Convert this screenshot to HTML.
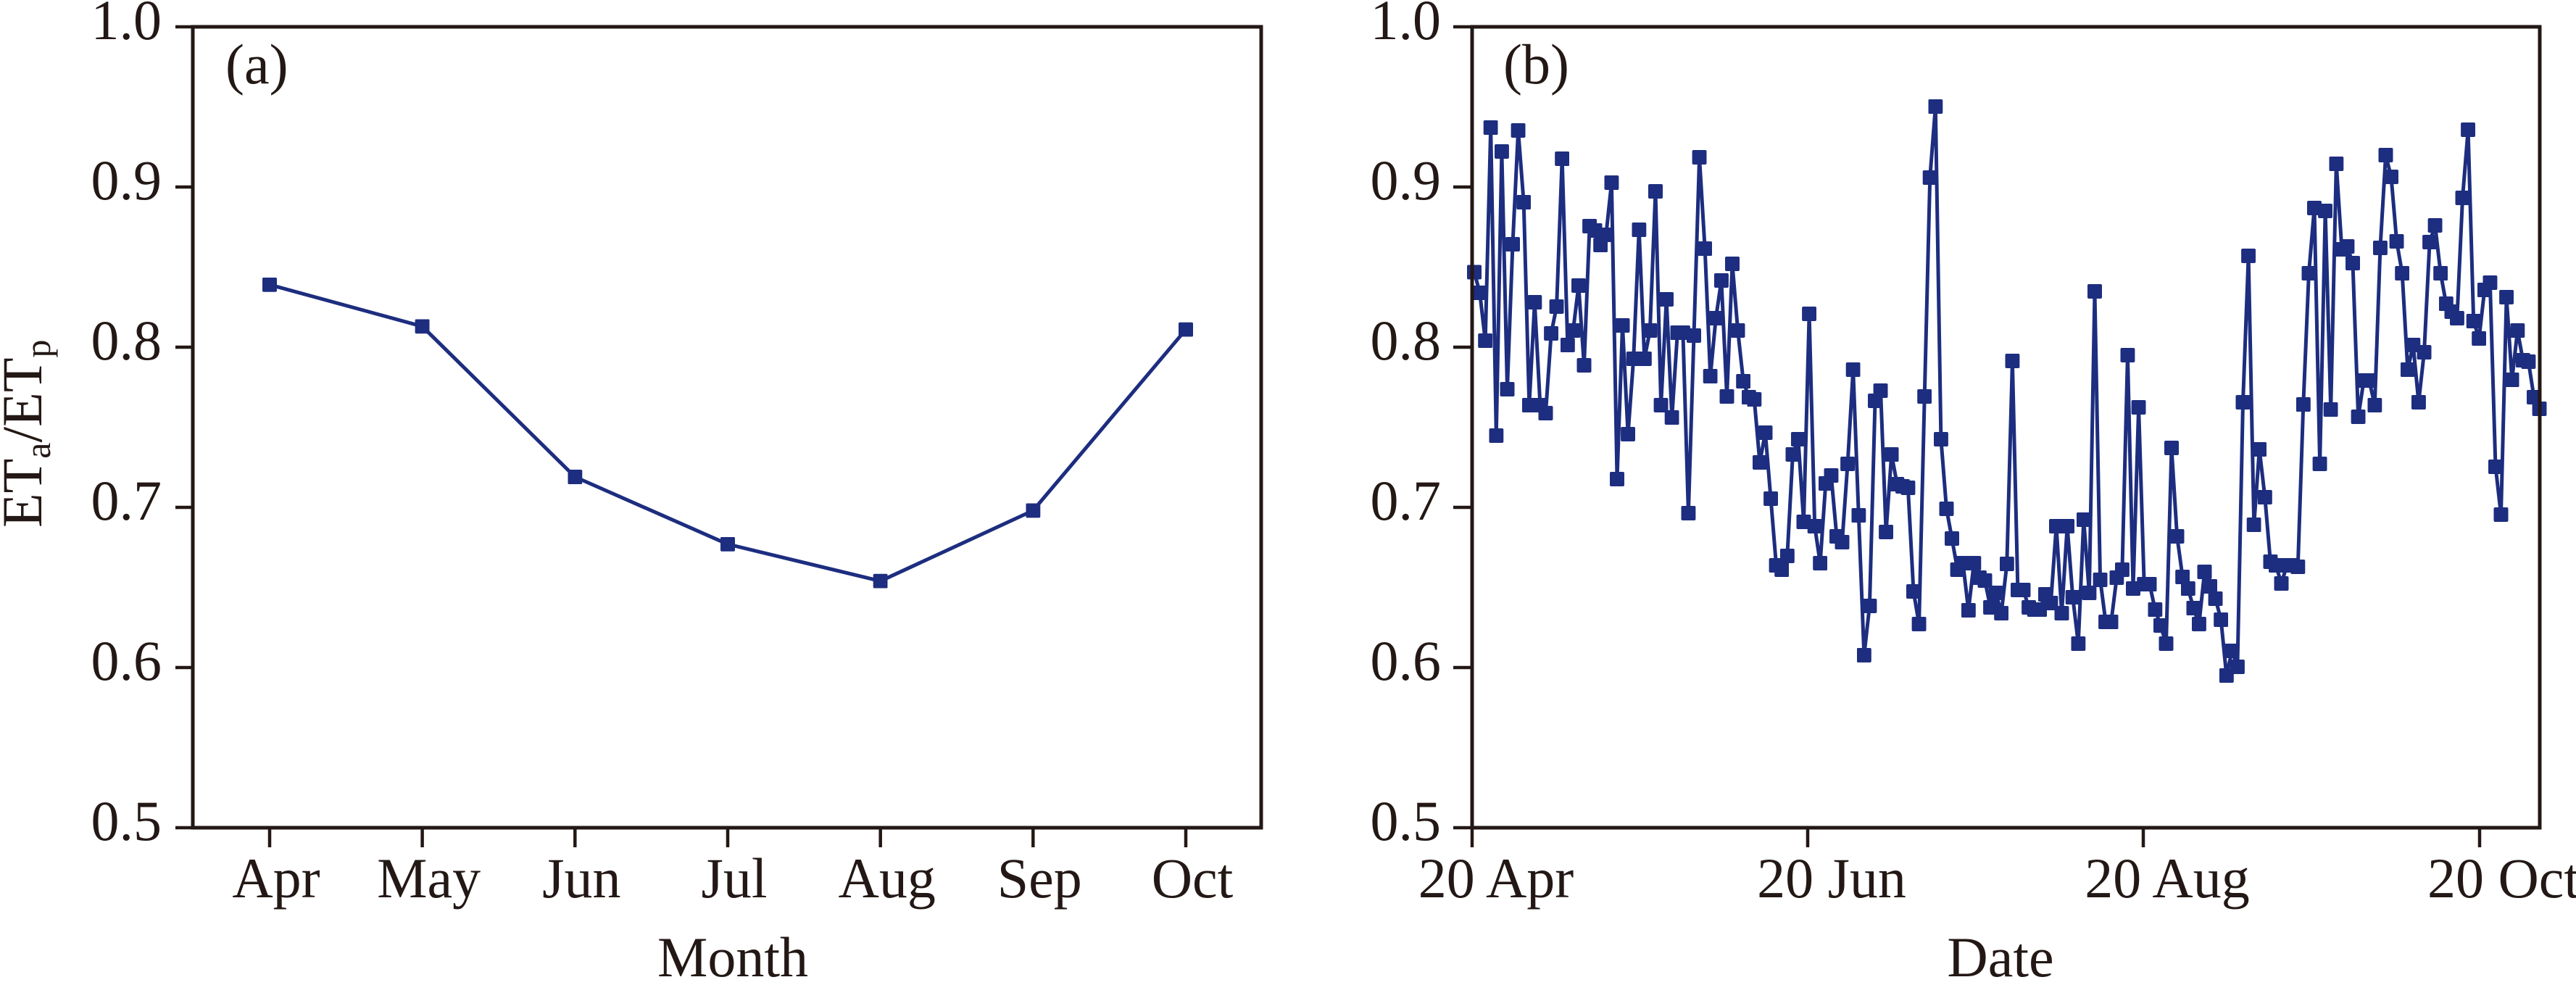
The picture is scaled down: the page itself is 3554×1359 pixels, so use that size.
<!DOCTYPE html>
<html>
<head>
<meta charset="utf-8">
<style>
  html, body { margin: 0; padding: 0; background: #ffffff; }
  svg { display: block; }
  text { font-family: "Liberation Serif", "Times New Roman", serif; fill: #231815; }
</style>
</head>
<body>
<svg xmlns="http://www.w3.org/2000/svg" width="3554" height="1359" viewBox="0 0 3554 1359">
  <defs>
    <marker id="sq" markerUnits="userSpaceOnUse" markerWidth="20" markerHeight="20" refX="10" refY="10" viewBox="0 0 20 20">
      <rect x="0" y="0" width="20" height="20" rx="2" fill="#1d2d7f"/>
    </marker>
  </defs>
  <rect x="0" y="0" width="3554" height="1359" fill="#ffffff"/>

  <!-- ===== Panel (a) data ===== -->
  <polyline fill="none" stroke="#1d2d7f" stroke-width="5" stroke-linejoin="round"
    marker-start="url(#sq)" marker-mid="url(#sq)" marker-end="url(#sq)"
    points="372,392.8 582.6,450.3 793.3,658 1004,750.8 1214.7,801.7 1425.3,704.4 1636,454.7"/>

  <!-- ===== Panel (b) data ===== -->
  <polyline fill="none" stroke="#1d2d7f" stroke-width="5" stroke-linejoin="round"
    marker-start="url(#sq)" marker-mid="url(#sq)" marker-end="url(#sq)"
    points="2034.0,375.5 2041.6,404 2049.2,470 2056.7,176 2064.3,601 2071.9,209 2079.5,537 2087.0,337 2094.6,180 2102.2,279 2109.8,559 2117.3,417 2124.9,559 2132.5,570 2140.1,460 2147.6,423 2155.2,219 2162.8,476 2170.4,456 2177.9,394 2185.5,504 2193.1,312 2200.7,318 2208.2,338 2215.8,324 2223.4,252 2231.0,661 2238.5,449 2246.1,599 2253.7,495 2261.3,317 2268.8,495 2276.4,456 2284.0,264 2291.6,559 2299.1,413 2306.7,576 2314.3,459 2321.9,459 2329.4,708 2337.0,463 2344.6,217 2352.2,343 2359.7,519 2367.3,439 2374.9,387 2382.5,547 2390.0,364 2397.6,456 2405.2,526
    2412.8,548 2420.3,551 2427.9,638 2435.5,597 2443.1,688 2450.6,780 2458.2,786 2465.8,767 2473.4,627 2480.9,606 2488.5,720 2496.1,433 2503.7,726 2511.2,777 2518.8,667 2526.4,656 2534.0,740 2541.5,748 2549.1,640 2556.7,510 2564.3,711 2571.8,904 2579.4,836 2587.0,553 2594.6,539 2602.1,734 2609.7,627 2617.3,668 2624.9,671 2632.4,673 2640.0,816 2647.6,861 2655.2,547 2662.7,245 2670.3,147 2677.9,606 2685.5,702 2693.0,743 2700.6,786 2708.2,777 2715.8,842 2723.3,777 2730.9,797 2738.5,801 2746.1,838 2753.6,818 2761.2,846 2768.8,778
    2776.4,498 2783.9,814 2791.5,814 2799.1,838 2806.7,841 2814.2,841 2821.8,820 2829.4,832 2837.0,726 2844.5,846 2852.1,726 2859.7,824 2867.3,888 2874.8,717 2882.4,818 2890.0,402 2897.6,800 2905.1,858 2912.7,858 2920.3,797 2927.9,786 2935.4,490 2943.0,812 2950.6,562 2958.2,806 2965.7,806 2973.3,841 2980.9,863 2988.5,888 2996.0,618 3003.6,740 3011.2,796 3018.8,812 3026.3,839 3033.9,861 3041.5,789 3049.1,809 3056.6,826 3064.2,855 3071.8,932 3079.4,898 3086.9,920 3094.5,555 3102.1,353 3109.7,724 3117.2,620 3124.8,686 3132.4,775 3140.0,780 3147.5,805
    3155.1,780 3162.7,780 3170.3,782 3177.8,558 3185.4,377 3193.0,287 3200.6,640 3208.1,291 3215.7,565 3223.3,226 3230.9,344 3238.4,340 3246.0,363 3253.6,575 3261.2,525 3268.7,525 3276.3,559 3283.9,342 3291.5,214 3299.0,244 3306.6,333 3314.2,377 3321.8,510 3329.3,476 3336.9,555 3344.5,486 3352.1,334 3359.6,311 3367.2,377 3374.8,419 3382.4,430 3389.9,439 3397.5,273 3405.1,179 3412.7,443 3420.2,467 3427.8,400 3435.4,390 3443.0,644 3450.5,710 3458.1,410 3465.7,524 3473.3,456 3480.8,497 3488.4,499 3496.0,548 3503.6,564"/>

  <!-- ===== Panel (a) axes ===== -->
  <g stroke="#231815" fill="none">
    <rect x="266" y="37" width="1474" height="1105" stroke-width="5"/>
    <g stroke-width="4.5">
      <line x1="242" y1="37" x2="266" y2="37"/>
      <line x1="242" y1="258" x2="266" y2="258"/>
      <line x1="242" y1="479" x2="266" y2="479"/>
      <line x1="242" y1="700" x2="266" y2="700"/>
      <line x1="242" y1="921" x2="266" y2="921"/>
      <line x1="242" y1="1142" x2="266" y2="1142"/>
      <line x1="372" y1="1142" x2="372" y2="1169"/>
      <line x1="582.6" y1="1142" x2="582.6" y2="1169"/>
      <line x1="793.3" y1="1142" x2="793.3" y2="1169"/>
      <line x1="1004" y1="1142" x2="1004" y2="1169"/>
      <line x1="1214.7" y1="1142" x2="1214.7" y2="1169"/>
      <line x1="1425.3" y1="1142" x2="1425.3" y2="1169"/>
      <line x1="1636" y1="1142" x2="1636" y2="1169"/>
    </g>
  </g>

  <!-- ===== Panel (b) axes ===== -->
  <g stroke="#231815" fill="none">
    <rect x="2031" y="37" width="1473" height="1105" stroke-width="5"/>
    <g stroke-width="4.5">
      <line x1="2005" y1="37" x2="2031" y2="37"/>
      <line x1="2005" y1="258" x2="2031" y2="258"/>
      <line x1="2005" y1="479" x2="2031" y2="479"/>
      <line x1="2005" y1="700" x2="2031" y2="700"/>
      <line x1="2005" y1="921" x2="2031" y2="921"/>
      <line x1="2005" y1="1142" x2="2031" y2="1142"/>
      <line x1="2031" y1="1142" x2="2031" y2="1169"/>
      <line x1="2494" y1="1142" x2="2494" y2="1169"/>
      <line x1="2957" y1="1142" x2="2957" y2="1169"/>
      <line x1="3421" y1="1142" x2="3421" y2="1169"/>
    </g>
  </g>

  <!-- ===== Panel (a) text ===== -->
  <g font-size="78">
    <text x="223" y="54" text-anchor="end">1.0</text>
    <text x="223" y="275" text-anchor="end">0.9</text>
    <text x="223" y="496" text-anchor="end">0.8</text>
    <text x="223" y="717" text-anchor="end">0.7</text>
    <text x="223" y="938" text-anchor="end">0.6</text>
    <text x="223" y="1159" text-anchor="end">0.5</text>

    <text x="381" y="1238" text-anchor="middle">Apr</text>
    <text x="591.6" y="1238" text-anchor="middle">May</text>
    <text x="802.3" y="1238" text-anchor="middle">Jun</text>
    <text x="1013" y="1238" text-anchor="middle">Jul</text>
    <text x="1223.7" y="1238" text-anchor="middle">Aug</text>
    <text x="1434.3" y="1238" text-anchor="middle">Sep</text>
    <text x="1645" y="1238" text-anchor="middle">Oct</text>

    <text x="1011" y="1347" text-anchor="middle">Month</text>
    <text x="311" y="115">(a)</text>

    <text transform="translate(57,728) rotate(-90)">ET<tspan font-size="50" dy="12">a</tspan><tspan dy="-12">/ET</tspan><tspan font-size="50" dy="12">p</tspan></text>
  </g>

  <!-- ===== Panel (b) text ===== -->
  <g font-size="78">
    <text x="1988" y="54" text-anchor="end">1.0</text>
    <text x="1988" y="275" text-anchor="end">0.9</text>
    <text x="1988" y="496" text-anchor="end">0.8</text>
    <text x="1988" y="717" text-anchor="end">0.7</text>
    <text x="1988" y="938" text-anchor="end">0.6</text>
    <text x="1988" y="1159" text-anchor="end">0.5</text>

    <text x="2064" y="1238" text-anchor="middle">20 Apr</text>
    <text x="2527" y="1238" text-anchor="middle">20 Jun</text>
    <text x="2990" y="1238" text-anchor="middle">20 Aug</text>
    <text x="3454" y="1238" text-anchor="middle">20 Oct</text>

    <text x="2760" y="1347" text-anchor="middle">Date</text>
    <text x="2074" y="115">(b)</text>
  </g>
</svg>
</body>
</html>
